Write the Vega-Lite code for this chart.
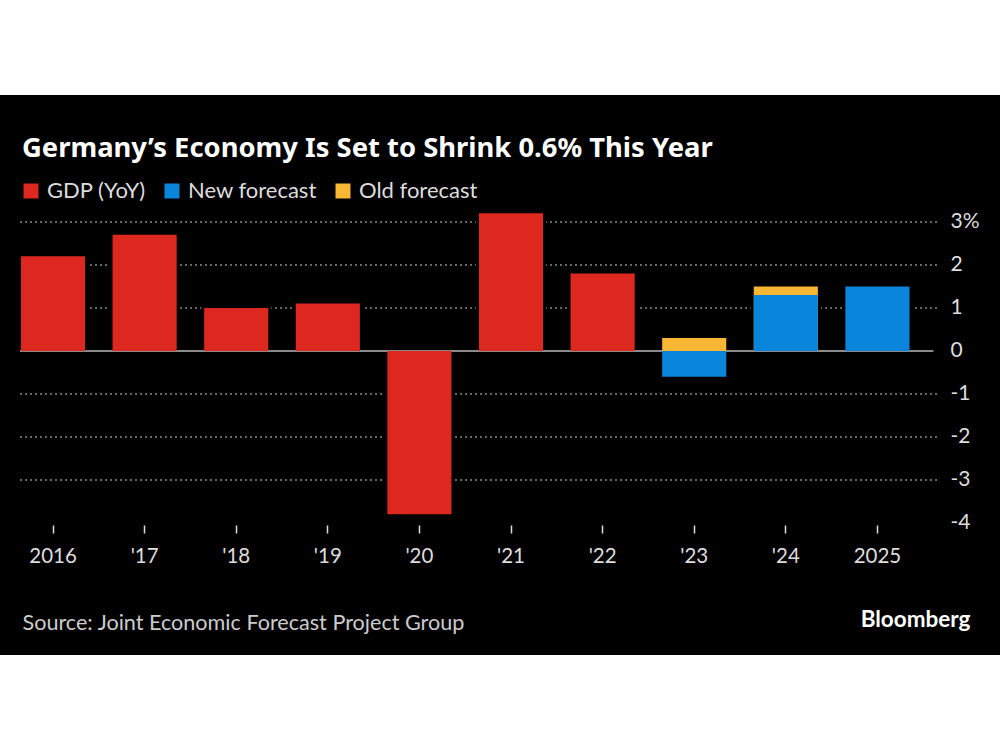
{
  "$schema": "https://vega.github.io/schema/vega-lite/v6.json",
  "width": 1000,
  "height": 560,
  "autosize": {"type": "none"},
  "padding": {"top": 95, "bottom": 95, "left": 0, "right": 0},
  "background": "white",
  "config": {"view": {"fill": "black", "stroke": null}, "font": "Lato"},
  "title": {
    "text": "Germany’s Economy Is Set to Shrink 0.6% This Year",
    "anchor": "start",
    "frame": "group",
    "orient": "top",
    "offset": -67,
    "dx": 22,
    "fontSize": 27.4,
    "fontWeight": "bold",
    "color": "white",
    "font": "Noto Sans"
  },
  "datasets": {
    "bars": [
      {"year": "'23", "series": "Old forecast", "value": 0.3},
      {"year": "'24", "series": "Old forecast", "value": 1.5},
      {"year": "2016", "series": "GDP (YoY)", "value": 2.2},
      {"year": "'17", "series": "GDP (YoY)", "value": 2.7},
      {"year": "'18", "series": "GDP (YoY)", "value": 1.0},
      {"year": "'19", "series": "GDP (YoY)", "value": 1.1},
      {"year": "'20", "series": "GDP (YoY)", "value": -3.8},
      {"year": "'21", "series": "GDP (YoY)", "value": 3.2},
      {"year": "'22", "series": "GDP (YoY)", "value": 1.8},
      {"year": "'23", "series": "New forecast", "value": -0.6},
      {"year": "'24", "series": "New forecast", "value": 1.3},
      {"year": "2025", "series": "New forecast", "value": 1.5}
    ],
    "grid": [
      {"value": 3}, {"value": 2}, {"value": 1}, {"value": -1}, {"value": -2}, {"value": -3}
    ],
    "zero": [{"value": 0}]
  },
  "layer": [
    {
      "data": {"name": "bars"},
      "mark": {"type": "bar"},
      "encoding": {
        "x": {
          "field": "year",
          "type": "nominal",
          "scale": {"domain": ["2016", "'17", "'18", "'19", "'20", "'21", "'22", "'23", "'24", "2025"], "paddingInner": 0.3, "paddingOuter": 0.6085, "align": 0.188},
          "axis": {
            "orient": "bottom",
            "offset": -130,
            "domain": false,
            "grid": false,
            "ticks": true,
            "tickColor": "#dddddd",
            "tickSize": 8,
            "tickWidth": 1.5,
            "labelColor": "#dddddd",
            "labelFontSize": 20.5,
            "labelPadding": 13,
            "labelAngle": 0,
            "title": "Source: Joint Economic Forecast Project Group",
            "titleX": 22,
            "titleY": 98,
            "titleAlign": "left",
            "titleAnchor": "start",
            "titleBaseline": "middle",
            "titleFontSize": 21.6,
            "titleFontWeight": "normal",
            "titleColor": "#cccccc"
          }
        },
        "y": {
          "field": "value",
          "type": "quantitative",
          "stack": null,
          "scale": {"domain": [-7.07, 5.95], "nice": false, "zero": false},
          "axis": {
            "orient": "right",
            "offset": -63,
            "values": [3, 2, 1, 0, -1, -2, -3, -4],
            "domain": false,
            "ticks": false,
            "grid": false,
            "labelAlign": "left",
            "labelPadding": 13,
            "labelFontSize": 21,
            "labelColor": "#dddddd",
            "labelExpr": "datum.value == 3 ? '3%' : '' + datum.value",
            "title": "Bloomberg",
            "titleAngle": 0,
            "titleX": 33,
            "titleY": 524,
            "titleAlign": "right",
            "titleBaseline": "middle",
            "titleFontSize": 22.5,
            "titleFontWeight": "bold",
            "titleColor": "white"
          }
        },
        "opacity": {"value": 0}
      }
    },
    {
      "data": {"name": "grid"},
      "mark": {"type": "rule", "color": "#8a8a8a", "strokeWidth": 1.5, "strokeDash": [2, 3], "xOffset": -33, "x2Offset": 60},
      "encoding": {
        "x": {"datum": "2016", "type": "nominal"},
        "x2": {"datum": "2025"},
        "y": {"field": "value", "type": "quantitative"}
      }
    },
    {
      "data": {"name": "bars"},
      "mark": {"type": "bar", "fill": "black", "stroke": "black", "strokeWidth": 6},
      "encoding": {
        "x": {"field": "year", "type": "nominal"},
        "y": {"field": "value", "type": "quantitative", "stack": null}
      }
    },
    {
      "data": {"name": "zero"},
      "mark": {"type": "rule", "color": "#8a8a8a", "strokeWidth": 2, "xOffset": -33, "x2Offset": 56},
      "encoding": {
        "x": {"datum": "2016", "type": "nominal"},
        "x2": {"datum": "2025"},
        "y": {"field": "value", "type": "quantitative"}
      }
    },
    {
      "data": {"name": "bars"},
      "mark": {"type": "bar"},
      "encoding": {
        "x": {"field": "year", "type": "nominal"},
        "y": {"field": "value", "type": "quantitative", "stack": null},
        "color": {
          "field": "series",
          "type": "nominal",
          "scale": {"domain": ["GDP (YoY)", "New forecast", "Old forecast"], "range": ["#dd2820", "#0a85dc", "#f9b734"]},
          "legend": {
            "orient": "none",
            "legendX": 20,
            "legendY": 85,
            "direction": "horizontal",
            "title": null,
            "symbolType": "square",
            "symbolSize": 225,
            "symbolStrokeWidth": 0,
            "labelFontSize": 22,
            "labelColor": "#dddddd",
            "labelOffset": 5,
            "columnPadding": 15,
            "padding": 0
          }
        }
      }
    }
  ]
}
